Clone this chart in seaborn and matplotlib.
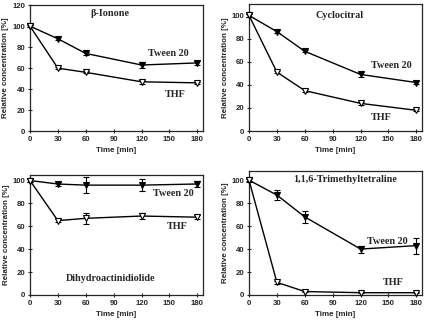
import numpy as np
import pandas as pd
import matplotlib
matplotlib.use('Agg')
import matplotlib.pyplot as plt
import seaborn as sns

# time points [min]
time = [0, 30, 60, 120, 180]

# beta-Ionone
ionone_tween = [100, 88, 74, 63, 65]
ionone_tween_err = [1, 1.5, 1, 3, 2]
ionone_thf = [100, 60, 56, 47, 46]
ionone_thf_err = [1, 1, 1, 2, 1]

# Cyclocitral
cyclo_tween = [100, 86, 69, 49, 42]
cyclo_tween_err = [1, 1.5, 1, 2, 1.5]
cyclo_thf = [100, 51, 35, 24, 18]
cyclo_thf_err = [1, 1, 1, 1, 1]

# Dihydroactinidiolide
dhad_tween = [100, 97, 96, 96, 97]
dhad_tween_err = [1, 2, 7, 5, 3]
dhad_thf = [100, 65, 67, 69, 68]
dhad_thf_err = [1, 1, 5, 3, 2]

# 1,1,6-Trimethyltetraline
tmt_tween = [100, 87, 68, 40, 43]
tmt_tween_err = [2, 4, 5, 3, 7]
tmt_thf = [100, 11, 3, 2, 2]
tmt_thf_err = [1, 1, 0.5, 0.5, 0.5]

panels = [
    dict(name='\u03b2-Ionone', tw=ionone_tween, twe=ionone_tween_err, th=ionone_thf, the=ionone_thf_err,
         ylim=120, yt=np.arange(0, 121, 20), pos=[0.0704, 0.594, 0.406, 0.390],
         name_xy=(86, 112), tw_xy=(149, 74), th_xy=(156, 35)),
    dict(name='Cyclocitral', tw=cyclo_tween, twe=cyclo_tween_err, th=cyclo_thf, the=cyclo_thf_err,
         ylim=110, yt=np.arange(0, 101, 20), pos=[0.5845, 0.594, 0.406, 0.394],
         name_xy=(97, 100), tw_xy=(153, 57), th_xy=(142, 12)),
    dict(name='Dihydroactinidiolide', tw=dhad_tween, twe=dhad_tween_err, th=dhad_thf, the=dhad_thf_err,
         ylim=105, yt=np.arange(0, 101, 20), pos=[0.0704, 0.0867, 0.406, 0.372],
         name_xy=(87, 14), tw_xy=(154, 89), th_xy=(158, 60)),
    dict(name='1,1,6-Trimethyltetraline', tw=tmt_tween, twe=tmt_tween_err, th=tmt_thf, the=tmt_thf_err,
         ylim=108, yt=np.arange(0, 101, 20), pos=[0.5845, 0.0867, 0.406, 0.384],
         name_xy=(103, 101), tw_xy=(149, 47), th_xy=(155, 11)),
]

sns.set_style('ticks')
plt.rcParams['font.family'] = ['Liberation Sans', 'DejaVu Sans']

fig = plt.figure(figsize=(4.26, 3.23), dpi=100)
serif = dict(family=['Liberation Serif', 'DejaVu Serif'], fontweight='bold', fontsize=7.3)

for p in panels:
    ax = fig.add_axes(p['pos'])
    df = pd.DataFrame({'time': time * 2,
                       'conc': p['tw'] + p['th'],
                       'solvent': ['Tween 20'] * 5 + ['THF'] * 5})
    for solv, vals, errs, face in [('Tween 20', p['tw'], p['twe'], 'black'),
                                   ('THF', p['th'], p['the'], 'white')]:
        ax.errorbar(time, vals, yerr=errs, fmt='none', ecolor='black', elinewidth=0.8,
                    capsize=2.2, capthick=0.8, zorder=2, clip_on=False)
        sns.lineplot(data=df[df['solvent'] == solv], x='time', y='conc', ax=ax,
                     color='black', linewidth=1.0, marker='v', markersize=4.5,
                     markerfacecolor=face, markeredgecolor='black', markeredgewidth=0.8,
                     legend=False, zorder=3, clip_on=False)
    ax.set_xlim(0, 186)
    ax.set_ylim(0, p['ylim'])
    ax.set_xticks([0, 30, 60, 90, 120, 150, 180])
    ax.set_yticks(p['yt'])
    ax.tick_params(direction='inout', length=3, width=0.8, labelsize=5.6, pad=2)
    for lab in ax.get_xticklabels() + ax.get_yticklabels():
        lab.set_fontweight('bold')
    for s in ax.spines.values():
        s.set_visible(True)
        s.set_linewidth(0.9)
    ax.set_xlabel('Time [min]', fontsize=5.8, fontweight='bold', labelpad=3)
    ax.set_ylabel('Relative concentration [%]', fontsize=5.8, fontweight='bold', labelpad=2)
    ax.text(*p['name_xy'], p['name'], ha='center', va='center', **serif)
    ax.text(*p['tw_xy'], 'Tween 20', ha='center', va='center', **serif)
    ax.text(*p['th_xy'], 'THF', ha='center', va='center', **serif)

fig.savefig('out.png', dpi=100)
